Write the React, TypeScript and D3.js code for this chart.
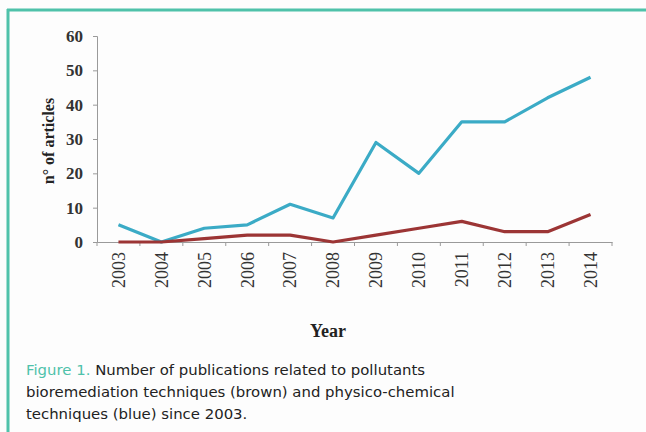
import React from 'react';
import { select, scaleBand, scaleLinear, line, axisLeft, axisBottom } from 'd3';

const years = ['2003', '2004', '2005', '2006', '2007', '2008', '2009', '2010', '2011', '2012', '2013', '2014'];
const physicoChemical = [5, 0, 4, 5, 11, 7, 29, 20, 35, 35, 42, 48];
const bioremediation = [0, 0, 1, 2, 2, 0, 2, 4, 6, 3, 3, 8];
const yTicks = [0, 10, 20, 30, 40, 50, 60];

const captionLines = [
    'Number of publications related to pollutants',
    'bioremediation techniques (brown) and physico-chemical',
    'techniques (blue) since 2003.',
];

const dims = {
    width: 646,
    height: 432,
    left: 97,
    right: 612,
    top: 36,
    bottom: 242,
};

const teal = '#4fc2aa';
const serif = '"Liberation Serif", "Times New Roman", serif';
const sans = '"DejaVu Sans", Arial, sans-serif';

const App: React.FC = () => {
    const ref = React.useRef<SVGSVGElement>(null);

    React.useEffect(() => {
        const svg = select(ref.current);
        svg.selectAll('*').remove();

        const x = scaleBand().domain(years).range([dims.left, dims.right]);
        const y = scaleLinear().domain([0, 60]).range([dims.bottom, dims.top]);

        // frame
        svg.append('rect').attr('width', dims.width).attr('height', dims.height).attr('fill', '#fdfdfd');
        svg.append('line').attr('x1', 7).attr('x2', dims.width).attr('y1', 10).attr('y2', 10)
            .attr('stroke', teal).attr('stroke-width', 3);
        svg.append('line').attr('x1', 8).attr('x2', 8).attr('y1', 9).attr('y2', dims.height)
            .attr('stroke', teal).attr('stroke-width', 3);

        // axes
        const yAxis = svg.append('g')
            .attr('transform', `translate(${dims.left},0)`)
            .call(axisLeft(y).tickValues(yTicks).tickSize(4).tickPadding(10));
        yAxis.select('.domain').attr('stroke', '#9a9a9a');
        yAxis.selectAll('.tick line').attr('stroke', '#9a9a9a');
        yAxis.selectAll('.tick text')
            .attr('font-family', serif).attr('font-size', 17).attr('fill', '#333')
            .attr('font-weight', 'bold');

        const xAxis = svg.append('g')
            .attr('transform', `translate(0,${dims.bottom})`)
            .call(axisBottom(x).tickSize(0).tickSizeOuter(0));
        xAxis.select('.domain').attr('stroke', '#9a9a9a');
        xAxis.selectAll('.tick line').remove();
        xAxis.selectAll('.tick text')
            .attr('font-family', serif).attr('font-size', 18).attr('fill', '#333')
            .attr('transform', 'rotate(-90)')
            .attr('text-anchor', 'end')
            .attr('x', -10).attr('y', 0).attr('dy', '0.35em');
        // boundary ticks between categories
        xAxis.selectAll('.bound')
            .data(years)
            .join('line')
            .attr('x1', d => x(d)!).attr('x2', d => x(d)!)
            .attr('y1', 0).attr('y2', 4)
            .attr('stroke', '#9a9a9a');
        xAxis.append('line')
            .attr('x1', dims.right).attr('x2', dims.right).attr('y1', 0).attr('y2', 4)
            .attr('stroke', '#9a9a9a');

        const lineGen = line<number>()
            .x((_, i) => x(years[i])! + x.bandwidth() / 2)
            .y(d => y(d));

        svg.append('path').datum(physicoChemical).attr('d', lineGen)
            .attr('fill', 'none').attr('stroke', '#3babc6').attr('stroke-width', 3.2)
            .attr('stroke-linejoin', 'round');
        svg.append('path').datum(bioremediation).attr('d', lineGen)
            .attr('fill', 'none').attr('stroke', '#9c3535').attr('stroke-width', 3.2)
            .attr('stroke-linejoin', 'round');

        // axis titles
        svg.append('text')
            .attr('transform', 'translate(54,141) rotate(-90)')
            .attr('text-anchor', 'middle')
            .attr('font-family', serif).attr('font-size', 16).attr('font-weight', 'bold').attr('fill', '#222')
            .text('n° of articles');
        svg.append('text')
            .attr('x', 328).attr('y', 337)
            .attr('text-anchor', 'middle')
            .attr('font-family', serif).attr('font-size', 18).attr('font-weight', 'bold').attr('fill', '#222')
            .text('Year');

        // caption
        const cap = svg.append('g').attr('font-family', sans).attr('font-size', 14.9).attr('fill', '#222');
        const first = cap.append('text').attr('x', 26).attr('y', 375);
        first.append('tspan').attr('fill', teal).text('Figure 1.');
        first.append('tspan').text(' ' + captionLines[0]);
        cap.selectAll('.ln')
            .data(captionLines.slice(1))
            .join('text')
            .attr('x', 26)
            .attr('y', (_, i) => 397 + i * 21.5)
            .text(d => d);
    }, []);

    return (
        <svg ref={ref} width={dims.width} height={dims.height}
            style={{ position: 'absolute', left: 0, top: 0 }} />
    );
};

export default App;
